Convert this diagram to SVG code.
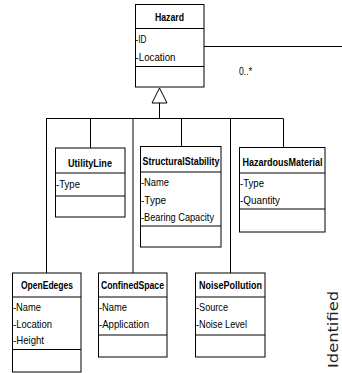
<svg xmlns="http://www.w3.org/2000/svg" width="342" height="373" viewBox="0 0 342 373">
<style>
.box{fill:#fff;stroke:#000;stroke-width:1}
.div{stroke:#000;stroke-width:1}
.t{font-family:"Liberation Sans",Arial,sans-serif;font-size:10.5px;font-weight:bold;text-anchor:middle;fill:#000}
.a{font-family:"Liberation Sans",Arial,sans-serif;font-size:10.5px;fill:#000}
.c{stroke:#000;stroke-width:1;fill:none}
</style>
<rect width="342" height="373" fill="#fff"/>
<g id="connectors">
<line class="c" x1="204" y1="46.5" x2="342" y2="46.5"/>
<text class="a" x="239" y="75" textLength="13" lengthAdjust="spacingAndGlyphs">0..*</text>
<polygon points="159.5,88 152,103 167,103" fill="#fff" stroke="#000" stroke-width="1"/>
<line class="c" x1="159.5" y1="103" x2="159.5" y2="118.5"/>
<line class="c" x1="46" y1="118.5" x2="283.5" y2="118.5"/>
<line class="c" x1="46.5" y1="118.5" x2="46.5" y2="273"/>
<line class="c" x1="90.5" y1="118.5" x2="90.5" y2="148"/>
<line class="c" x1="133" y1="118.5" x2="133" y2="273"/>
<line class="c" x1="181.5" y1="118.5" x2="181.5" y2="146"/>
<line class="c" x1="230.5" y1="118.5" x2="230.5" y2="273"/>
<line class="c" x1="283.5" y1="118.5" x2="283.5" y2="147"/>
</g>
<g id="Hazard">
<rect class="box" x="135.5" y="4.5" width="68.5" height="82.5"/>
<line class="div" x1="135.5" y1="28.5" x2="204" y2="28.5"/>
<line class="div" x1="135.5" y1="66.5" x2="204" y2="66.5"/>
<text class="t" x="169.5" y="21" textLength="29" lengthAdjust="spacingAndGlyphs">Hazard</text>
<text class="a" x="135.5" y="43" textLength="11" lengthAdjust="spacingAndGlyphs">-ID</text>
<text class="a" x="135.5" y="60.5" textLength="40" lengthAdjust="spacingAndGlyphs">-Location</text>
</g>
<g id="UtilityLine">
<rect class="box" x="55.5" y="148" width="69.5" height="69"/>
<line class="div" x1="55.5" y1="173" x2="125" y2="173"/>
<line class="div" x1="55.5" y1="196" x2="125" y2="196"/>
<text class="t" x="90" y="166.5" textLength="44" lengthAdjust="spacingAndGlyphs">UtilityLine</text>
<text class="a" x="56" y="187.5" textLength="24" lengthAdjust="spacingAndGlyphs">-Type</text>
</g>
<g id="StructuralStability">
<rect class="box" x="140.5" y="146.5" width="80.5" height="100.5"/>
<line class="div" x1="140.5" y1="172" x2="221" y2="172"/>
<line class="div" x1="140.5" y1="226" x2="221" y2="226"/>
<text class="t" x="181" y="164.5" textLength="77" lengthAdjust="spacingAndGlyphs">StructuralStability</text>
<text class="a" x="141" y="186" textLength="28" lengthAdjust="spacingAndGlyphs">-Name</text>
<text class="a" x="141" y="203.5" textLength="25" lengthAdjust="spacingAndGlyphs">-Type</text>
<text class="a" x="141" y="220.5" textLength="73" lengthAdjust="spacingAndGlyphs">-Bearing Capacity</text>
</g>
<g id="HazardousMaterial">
<rect class="box" x="239.5" y="147.5" width="85.5" height="84.5"/>
<line class="div" x1="239.5" y1="173" x2="325" y2="173"/>
<line class="div" x1="239.5" y1="209" x2="325" y2="209"/>
<text class="t" x="282.5" y="165.5" textLength="80" lengthAdjust="spacingAndGlyphs">HazardousMaterial</text>
<text class="a" x="240" y="187" textLength="24" lengthAdjust="spacingAndGlyphs">-Type</text>
<text class="a" x="240" y="204" textLength="40" lengthAdjust="spacingAndGlyphs">-Quantity</text>
</g>
<g id="OpenEdeges">
<rect class="box" x="12.5" y="273" width="68.5" height="99"/>
<line class="div" x1="12.5" y1="297" x2="81" y2="297"/>
<line class="div" x1="12.5" y1="349.5" x2="81" y2="349.5"/>
<text class="t" x="47" y="288.5" textLength="52" lengthAdjust="spacingAndGlyphs">OpenEdeges</text>
<text class="a" x="13" y="311" textLength="28" lengthAdjust="spacingAndGlyphs">-Name</text>
<text class="a" x="13" y="327.5" textLength="39" lengthAdjust="spacingAndGlyphs">-Location</text>
<text class="a" x="13" y="344" textLength="31" lengthAdjust="spacingAndGlyphs">-Height</text>
</g>
<g id="ConfinedSpace">
<rect class="box" x="98.5" y="273" width="68.5" height="84"/>
<line class="div" x1="98.5" y1="297" x2="167" y2="297"/>
<line class="div" x1="98.5" y1="335" x2="167" y2="335"/>
<text class="t" x="132.5" y="288.5" textLength="63" lengthAdjust="spacingAndGlyphs">ConfinedSpace</text>
<text class="a" x="99" y="311" textLength="28" lengthAdjust="spacingAndGlyphs">-Name</text>
<text class="a" x="99" y="327.5" textLength="50" lengthAdjust="spacingAndGlyphs">-Application</text>
</g>
<g id="NoisePollution">
<rect class="box" x="195.5" y="273" width="69.5" height="84"/>
<line class="div" x1="195.5" y1="297" x2="265" y2="297"/>
<line class="div" x1="195.5" y1="335" x2="265" y2="335"/>
<text class="t" x="230.5" y="288.5" textLength="63" lengthAdjust="spacingAndGlyphs">NoisePollution</text>
<text class="a" x="196" y="311" textLength="32" lengthAdjust="spacingAndGlyphs">-Source</text>
<text class="a" x="196" y="327.5" textLength="51" lengthAdjust="spacingAndGlyphs">-Noise Level</text>
</g>
<text transform="translate(337.5,368) rotate(-90)" font-family="DejaVu Sans, sans-serif" font-size="14" fill="#222" textLength="77" lengthAdjust="spacingAndGlyphs">Identified</text>
</svg>
